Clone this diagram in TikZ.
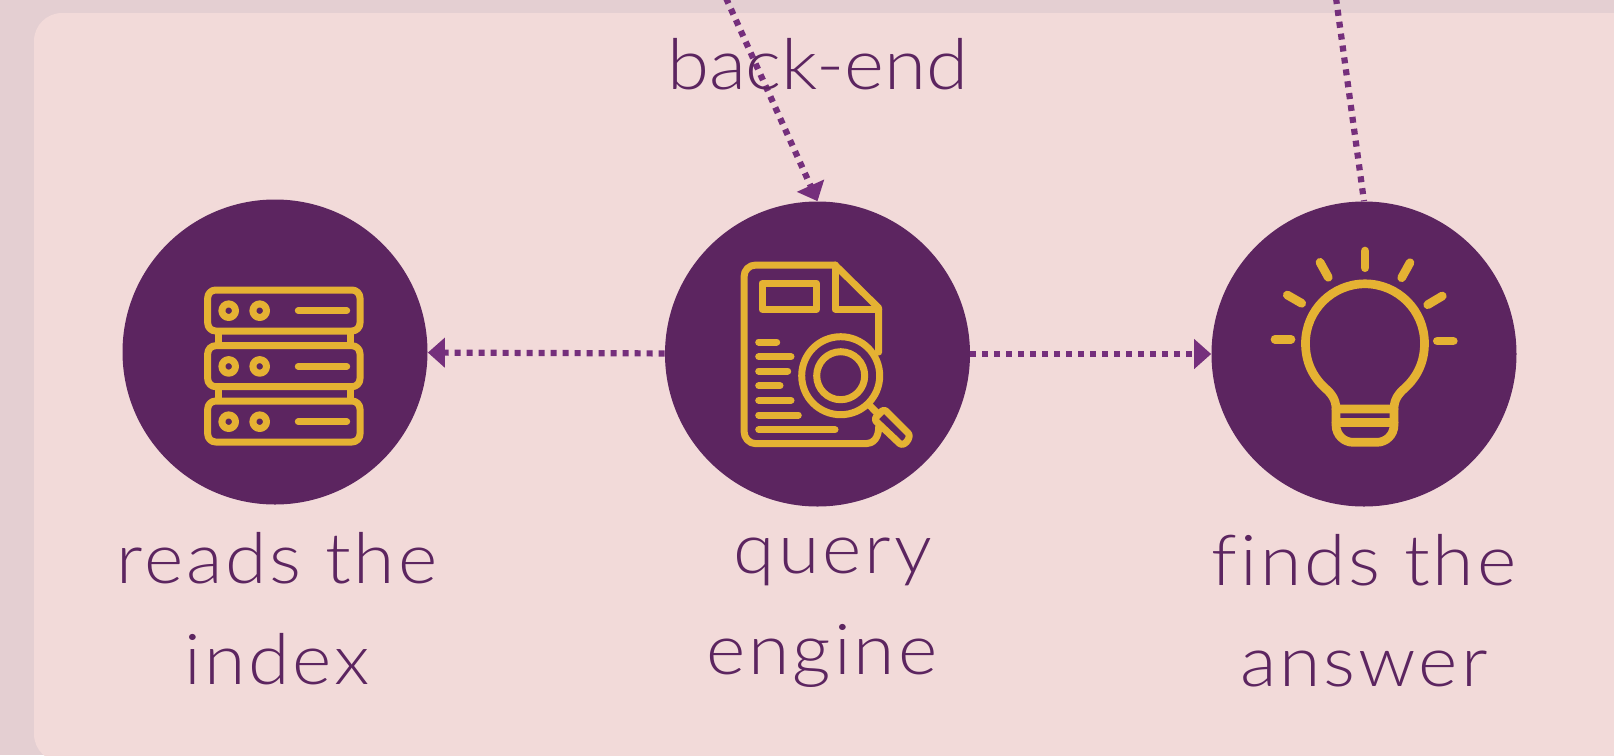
\documentclass[tikz,border=0pt]{standalone}
\usepackage{fontspec}
\setmainfont{Lato Light}
\usetikzlibrary{arrows.meta}

\definecolor{pagebg}{HTML}{E4CFD2}
\definecolor{panelbg}{HTML}{F2DAD9}
\definecolor{discfill}{HTML}{5C2560}
\definecolor{linkcol}{HTML}{752F7C}
\definecolor{iconcol}{HTML}{E5B233}

\tikzset{
  disc/.style={circle, fill=discfill, minimum size=305*0.02cm, inner sep=0pt},
  link/.style={draw=linkcol, line width=6.2*0.02cm, dash pattern=on 6*0.02cm off 6*0.02cm},
  linkhead/.style={link, -{Triangle[length=17*0.02cm, width=29*0.02cm, fill=linkcol]}},
  icon/.style={draw=iconcol, line width=7*0.02cm, line cap=round, line join=round},
  bulbline/.style={icon, line width=8.7*0.02cm},
  caption/.style={text=discfill, align=center,
    font=\fontsize{40}{57.5}\selectfont\addfontfeature{FakeStretch=1.07, LetterSpace=4.2, Ligatures=NoCommon}}
}

\begin{document}
\begin{tikzpicture}[x=0.02cm, y=-0.02cm]
  \useasboundingbox (0, 0) rectangle (1614, 755);
  \fill[pagebg] (0, 0) rectangle (1614, 755);
  \fill[panelbg, rounded corners=28*0.02cm] (34, 13) rectangle (1640, 762);

  \coordinate (topa) at (726, -2);
  \coordinate (topb) at (1336, -2);

  % the links sit under the discs
  \node[disc] (index) at (275, 352) {};
  \node[disc] (engine) at (817.5, 354) {};
  \node[disc] (answer) at (1364, 354) {};

  \draw[linkhead] (engine) -- (index);
  \draw[linkhead] (engine) -- (answer);
  \draw[linkhead] (topa) -- (engine.north);
  \draw[link] (topb) -- (answer.north);

  \node[text=discfill, font=\fontsize{40}{54}\selectfont\addfontfeature{FakeStretch=1.085}] (backend) at (817.5, 64) {back-end};

  \node[caption] (indexcap) at (277, 608.5) {reads the\\index};
  \node[caption] (enginecap) at (821.7, 613) {\hspace*{12.5pt}query\\engine};
  \node[caption] (answercap) at (1364, 610.5) {finds the\\answer};

  % server icon
  \foreach \y in {290, 345.7, 401} {
    \draw[icon, rounded corners=8*0.02cm] (207.7, \y) rectangle (360, \y+41);
    \draw[icon] (228.7, \y+20.7) circle (6.8*0.02cm);
    \draw[icon] (259.7, \y+20.7) circle (6.8*0.02cm);
    \draw[icon] (298.3, \y+20.7) -- (346.7, \y+20.7);
  }
  \foreach \y in {331, 386.7} {
    \draw[icon, line cap=butt] (218, \y) -- (218, \y+15);
    \draw[icon, line cap=butt] (350, \y) -- (350, \y+15);
  }

  % document icon
  \draw[icon] (878.7, 352) -- (878.7, 308) -- (835, 265) -- (756, 265)
    .. controls (749, 265) and (744, 270) .. (744, 277) -- (744, 431)
    .. controls (744, 438) and (749, 443.7) .. (756, 443.7) -- (866, 443.7)
    .. controls (873, 443.7) and (878.7, 438) .. (878.7, 427);
  \draw[icon] (835, 265) -- (835, 309) -- (878.7, 309);
  \draw[icon] (762, 283.3) rectangle (816.7, 309.3);
  \foreach \y/\xend in {342/776.7, 356.7/791, 371/787.7, 385.7/780, 400.3/791, 415/798.3, 429.7/835} {
    \draw[icon] (758.7, \y) -- (\xend, \y);
  }
  \draw[icon, fill=discfill] (840.7, 375.7) circle (39*0.02cm);
  \draw[icon] (840.7, 375.7) circle (24*0.02cm);
  \draw[icon] (869.3, 405) -- (879, 415);
  \draw[icon, fill=discfill, rounded corners=3*0.02cm] (874, 419.3) -- (884, 409) -- (906, 431)
    .. controls (912, 437) and (904, 448) .. (897, 441) -- cycle;

  % bulb icon
  \draw[bulbline] (1336, 409) .. controls (1336, 400) and (1332, 394) .. (1325, 388)
    .. controls (1312, 376) and (1305.5, 361) .. (1305.5, 343.3)
    arc[start angle=180, end angle=0, radius=59.5*0.02cm]
    .. controls (1424.5, 361) and (1418, 376) .. (1405, 388)
    .. controls (1398, 394) and (1394, 400) .. (1394, 409) -- cycle;
  \draw[bulbline] (1336, 409) -- (1336, 425) .. controls (1336, 435) and (1344, 442.3) .. (1353, 442.3)
    -- (1377, 442.3) .. controls (1386, 442.3) and (1394, 435) .. (1394, 425) -- (1394, 409);
  \draw[bulbline] (1336, 422.7) -- (1394, 422.7);
  \foreach \xa/\ya/\xb/\yb in {1365/251/1365/267.7, 1320/262.3/1328.3/277.3, 1287.3/295/1301.7/303.3,
      1275/339.3/1291/339.3, 1410/262.7/1401.7/277.7, 1442.3/296/1427.7/304.7, 1437.3/341/1453.3/341} {
    \draw[bulbline] (\xa, \ya) -- (\xb, \yb);
  }
\end{tikzpicture}
\end{document}
